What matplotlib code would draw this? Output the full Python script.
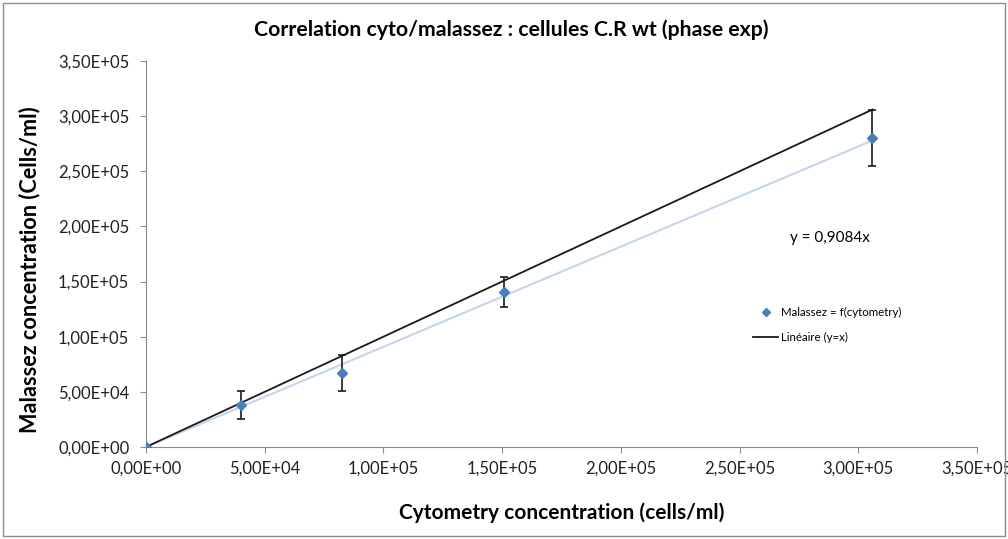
import matplotlib.pyplot as plt
from matplotlib.ticker import FuncFormatter, MultipleLocator
from matplotlib.patches import Rectangle

# cytometry vs Malassez counts (cells/ml)
cyto = [0, 40000, 82500, 151000, 306000]
malassez = [0, 38000, 67000, 140500, 280000]
err = [0, 12500, 16500, 14000, 25500]
slope = 0.9084

plt.rcParams['font.family'] = ['Lato', 'DejaVu Sans']


def sci_comma(v, pos):
    s = f"{v:.2E}"
    return s.replace(".", ",")


fig = plt.figure(figsize=(10.08, 5.39), dpi=100)
ax = fig.add_axes([0.1448, 0.1707, 0.8244, 0.7161])

fig.patches.append(Rectangle((0.003, 0.005), 0.994, 0.99, transform=fig.transFigure,
                             fill=False, edgecolor="#8c8c8c", linewidth=1.0))

x_end = cyto[-1]
ax.plot([0, x_end], [0, slope * x_end], color="#c5d5ea", linewidth=1.5, zorder=1)
ax.plot([0, x_end], [0, x_end], color="#1a1a1a", linewidth=1.3, zorder=2,
        label="Linéaire (y=x)")
ax.errorbar(cyto, malassez, yerr=err, fmt="none", ecolor="#1a1a1a",
            elinewidth=1.2, capsize=3, capthick=1.2, zorder=3)
ax.plot(cyto, malassez, linestyle="none", marker="D", markersize=5.5,
        color="#4a7ebb", zorder=4, label="Malassez = f(cytometry)")

ax.set_xlim(0, 350000)
ax.set_ylim(0, 350000)
ax.xaxis.set_major_locator(MultipleLocator(50000))
ax.yaxis.set_major_locator(MultipleLocator(50000))
ax.xaxis.set_major_formatter(FuncFormatter(sci_comma))
ax.yaxis.set_major_formatter(FuncFormatter(sci_comma))
ax.tick_params(labelsize=12, length=4, color="#8c8c8c", width=0.8, direction="out",
               labelcolor="#222222")
ax.tick_params(axis="x", pad=6)
ax.tick_params(axis="y", pad=8)

for side in ("top", "right"):
    ax.spines[side].set_visible(False)
for side in ("left", "bottom"):
    ax.spines[side].set_color("#8c8c8c")
    ax.spines[side].set_linewidth(0.8)

fig.text(0.507, 0.944, "Correlation cyto/malassez : cellules C.R wt (phase exp)",
         fontsize=15.3, fontweight="bold", ha="center", va="center")
ax.set_xlabel("Cytometry concentration (cells/ml)", fontsize=15, fontweight="bold",
              va="center")
ax.xaxis.set_label_coords(0.5, -0.171)
ax.set_ylabel("Malassez concentration (Cells/ml)", fontsize=15.6, fontweight="bold",
              va="center")
ax.yaxis.set_label_coords(-0.1396, 0.459)

ax.text(0.775, 0.541, f"y = {str(slope).replace('.', ',')}x", transform=ax.transAxes,
        fontsize=11, va="center")

handles, labels = ax.get_legend_handles_labels()
ax.legend(handles[::-1], labels[::-1], loc="center left",
          bbox_to_anchor=(0.718, 0.315), frameon=False, fontsize=8.3,
          handlelength=2.2, handletextpad=0.2, labelspacing=1.2, markerscale=0.8)

fig.savefig("out.png", dpi=100)
